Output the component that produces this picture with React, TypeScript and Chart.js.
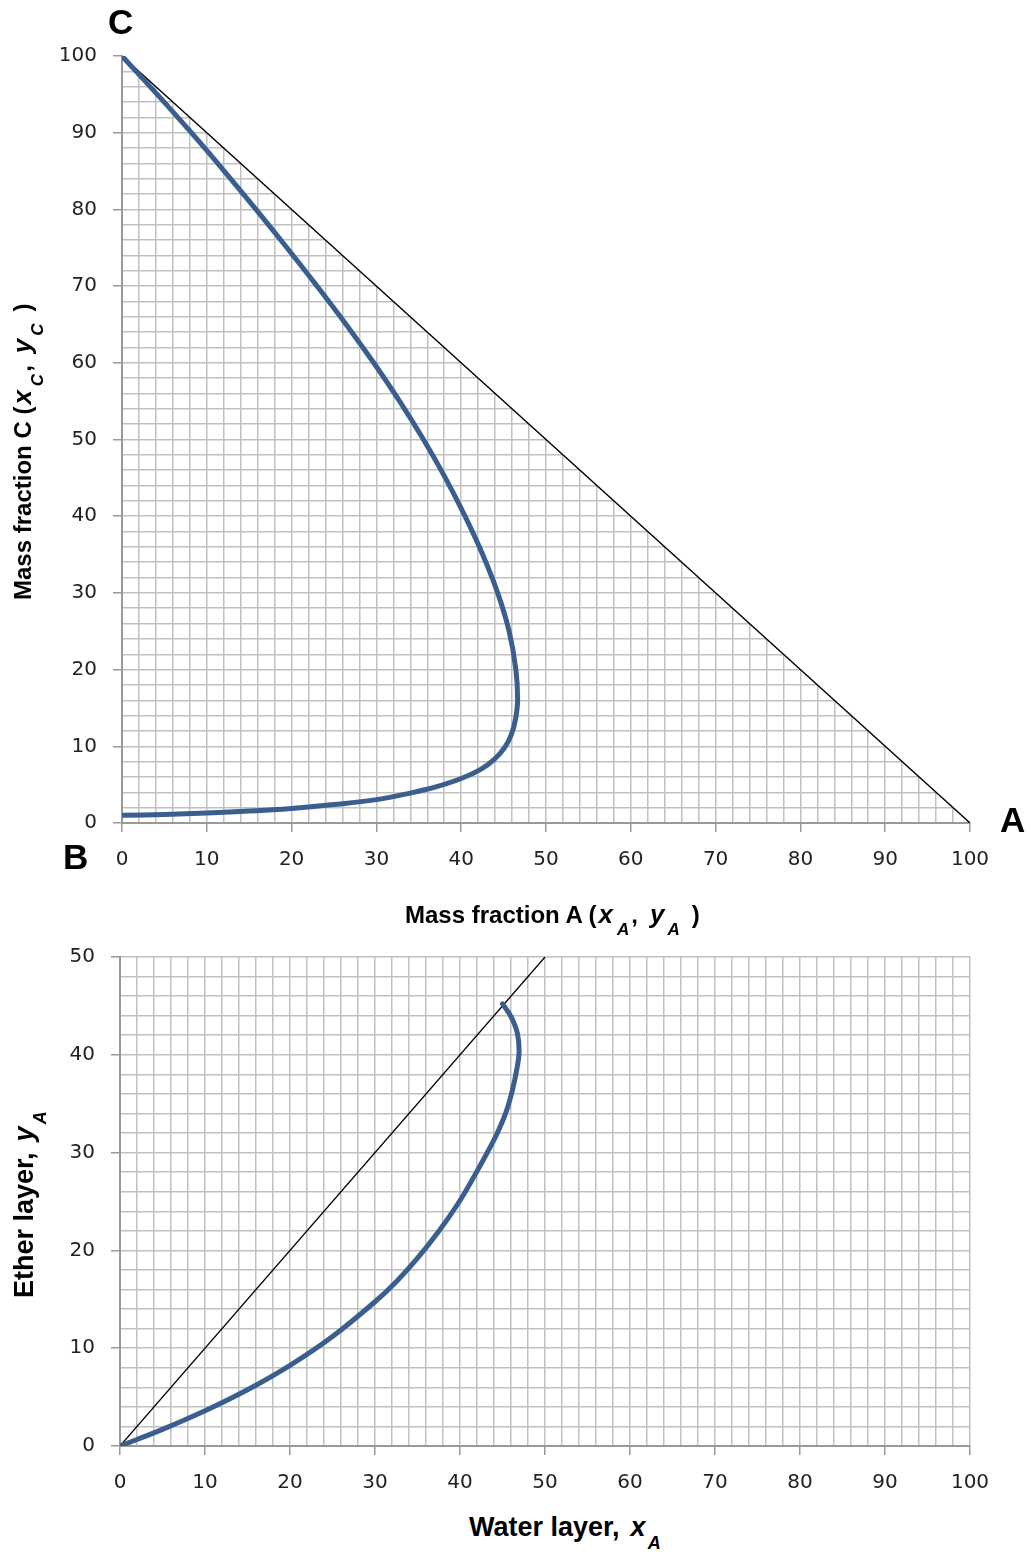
import React, { useEffect, useRef } from 'react';
import { Chart, registerables } from 'chart.js';

Chart.register(...registerables);

// ---------- data ----------
// Top chart: equilibrium (binodal) curve, mass fraction A (x) vs mass fraction C (y), in path order
const topCurveA = [0, 5, 10, 15, 20, 25, 30, 34, 37, 40, 42.3, 43.9, 45.1, 45.9, 46.4, 46.65, 46.45, 45.65, 44.3, 42.53, 40.45, 38.13, 35.55, 32.73, 29.68, 26.43, 23.0, 19.45, 15.8, 12.05, 8.18, 4.15, 0];
const topCurveC = [1.0, 1.12, 1.3, 1.55, 1.9, 2.4, 3.05, 3.9, 4.7, 5.8, 7.0, 8.3, 9.8, 11.5, 13.5, 16, 20, 25, 30, 35, 40, 45, 50, 55, 60, 65, 70, 75, 80, 85, 90, 95, 100];
const topDiagA = [0, 100];
const topDiagC = [100, 0];

// Bottom chart: distribution curve, water layer x_A vs ether layer y_A
const bottomCurveX = [0, 5, 10, 15, 20, 25, 30, 32.5, 35, 37.5, 40, 42, 44, 45, 45.6, 46.2, 46.7, 46.95, 46.75, 46.0, 45];
const bottomCurveY = [0, 1.7, 3.6, 5.75, 8.25, 11.2, 14.75, 16.8, 19.2, 21.95, 25.1, 28.1, 31.3, 33.2, 34.6, 36.5, 38.6, 40.3, 42.2, 43.9, 45.2];
const bottomDiagX = [0, 50];
const bottomDiagY = [0, 50];

// tick labels
const majorTicks100 = [0, 10, 20, 30, 40, 50, 60, 70, 80, 90, 100];
const majorTicks50 = [0, 10, 20, 30, 40, 50];

const toPoints = (xs: number[], ys: number[]) => xs.map((x, i) => ({ x, y: ys[i] }));

const GRID = '#c0c0c0';
const AXIS = '#999999';
const BLUE = '#3a5f8f';
const LABEL = '#222222';
const TICK_FONT = { family: "'DejaVu Sans', Verdana, sans-serif", size: 20 };

function axis(max: number, labels: number[], hideGridAt: number | null, fit: (s: any) => void) {
  return {
    type: 'linear' as const,
    min: 0,
    max,
    ticks: {
      stepSize: 2,
      autoSkip: false,
      maxRotation: 0,
      padding: 16,
      color: LABEL,
      font: TICK_FONT,
      callback: (v: any) => (labels.includes(Number(v)) ? String(v) : ''),
    },
    grid: {
      color: (ctx: any) => (ctx.tick && hideGridAt !== null && ctx.tick.value === hideGridAt ? 'rgba(0,0,0,0)' : GRID),
      lineWidth: 1.5,
      drawTicks: true,
      tickLength: 9,
      tickWidth: 1.5,
      tickColor: (ctx: any) => (ctx.tick && ctx.tick.value % 10 === 0 ? AXIS : 'rgba(0,0,0,0)'),
    },
    border: { color: AXIS, width: 2 },
    afterFit: fit,
  };
}

function ChartCanvas(props: { width: number; height: number; config: () => any; style: React.CSSProperties }) {
  const ref = useRef<HTMLCanvasElement | null>(null);
  useEffect(() => {
    if (!ref.current) return;
    const chart = new Chart(ref.current, props.config());
    return () => chart.destroy();
  }, []);
  return <canvas ref={ref} width={props.width} height={props.height} style={{ display: 'block', position: 'absolute', ...props.style }} />;
}

const curveStyle = {
  borderColor: BLUE,
  borderWidth: 5,
  tension: 0.4,
  pointRadius: 0,
  borderCapStyle: 'round',
  borderJoinStyle: 'round',
  fill: false,
};

const topConfig = () => ({
  type: 'line',
  data: {
    datasets: [
      { data: toPoints(topCurveA, topCurveC), ...curveStyle },
      {
        data: toPoints(topDiagA, topDiagC),
        borderColor: '#000000',
        borderWidth: 1.3,
        pointRadius: 0,
        tension: 0,
        backgroundColor: '#ffffff',
        fill: 'end',
      },
    ],
  },
  options: {
    animation: false,
    responsive: false,
    maintainAspectRatio: false,
    layout: { padding: { top: 56, right: 61, left: 0, bottom: 0 } },
    plugins: { legend: { display: false }, tooltip: { enabled: false } },
    scales: {
      x: axis(100, majorTicks100, 100, (s: any) => { s.height = 57; }),
      y: axis(100, majorTicks100, 100, (s: any) => { s.width = 122; }),
    },
  },
});

const bottomConfig = () => ({
  type: 'line',
  data: {
    datasets: [
      { data: toPoints(bottomCurveX, bottomCurveY), ...curveStyle },
      {
        data: toPoints(bottomDiagX, bottomDiagY),
        borderColor: '#000000',
        borderWidth: 1.3,
        pointRadius: 0,
        tension: 0,
        fill: false,
      },
    ],
  },
  options: {
    animation: false,
    responsive: false,
    maintainAspectRatio: false,
    layout: { padding: { top: 57, right: 61, left: 0, bottom: 0 } },
    plugins: { legend: { display: false }, tooltip: { enabled: false } },
    scales: {
      x: axis(100, majorTicks100, null, (s: any) => { s.height = 54; }),
      y: axis(50, majorTicks50, null, (s: any) => { s.width = 120; }),
    },
  },
});

const titleFont = (size: number): React.CSSProperties => ({
  position: 'absolute',
  fontFamily: "'Liberation Sans', Arial, sans-serif",
  fontWeight: 'bold',
  fontSize: size,
  lineHeight: `${Math.round(size * 1.18)}px`,
  whiteSpace: 'nowrap',
  color: '#000',
});

const cornerFont: React.CSSProperties = {
  position: 'absolute',
  fontFamily: "'Liberation Sans', Arial, sans-serif",
  fontWeight: 'bold',
  fontSize: 35,
  lineHeight: '35px',
  color: '#000',
};

const Sub = (p: { children: React.ReactNode; size?: number; drop?: number; ml?: number }) => (
  <span style={{ fontSize: p.size || 17, fontStyle: 'italic', position: 'relative', top: p.drop || 12, marginLeft: p.ml || 0 }}>{p.children}</span>
);
const V = (p: { children: React.ReactNode; ml?: number; size?: number }) => (
  <span style={{ fontStyle: 'italic', marginLeft: p.ml || 0, fontSize: p.size }}>{p.children}</span>
);

const Paren = (p: { v1: string; v2: string; s: string }) => (
  <span>
    (<V ml={2} size={26}>{p.v1}</V>
    <Sub ml={4}>{p.s}</Sub>
    <span style={{ marginLeft: 2 }}>,</span>
    <V ml={12} size={26}>{p.v2}</V>
    <Sub ml={3}>{p.s}</Sub>
    <span style={{ marginLeft: 12 }}>)</span>
  </span>
);

export default function App() {
  useEffect(() => {
    document.body.style.margin = '0';
  }, []);
  return (
    <div style={{ position: 'relative', width: 1031, height: 1556, background: '#fff', overflow: 'hidden' }}>
      <ChartCanvas width={1031} height={880} config={topConfig} style={{ left: 0, top: 0 }} />
      <ChartCanvas width={1031} height={600} config={bottomConfig} style={{ left: 0, top: 900 }} />

      <div style={{ ...cornerFont, left: 108, top: 4 }}>C</div>
      <div style={{ ...cornerFont, left: 63, top: 839 }}>B</div>
      <div style={{ ...cornerFont, left: 1000, top: 802 }}>A</div>

      <div style={{ ...titleFont(24), left: 405, top: 900 }}>
        Mass fraction A <Paren v1="x" v2="y" s="A" />
      </div>
      <div style={{ ...titleFont(24), left: 8, top: 600, transform: 'rotate(-90deg)', transformOrigin: '0 0' }}>
        Mass fraction C <Paren v1="x" v2="y" s="C" />
      </div>

      <div style={{ ...titleFont(27), left: 469, top: 1511 }}>
        Water layer,<V ml={11}>x</V><Sub size={18} drop={13} ml={2}>A</Sub>
      </div>
      <div style={{ ...titleFont(27), left: 8, top: 1298, transform: 'rotate(-90deg)', transformOrigin: '0 0' }}>
        Ether layer,<V ml={11}>y</V><Sub size={18} drop={13} ml={2}>A</Sub>
      </div>
    </div>
  );
}
